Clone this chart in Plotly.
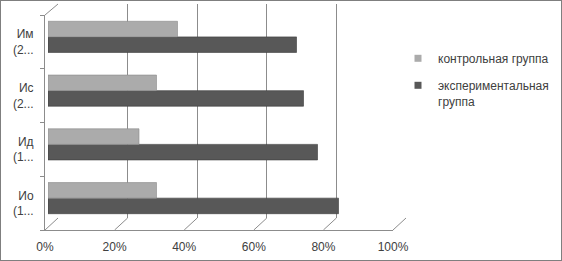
import plotly.graph_objects as go

# ---- data ----
categories = ["Ио<br>(1...", "Ид<br>(1...", "Ис<br>(2...", "Им<br>(2..."]
control = [0.31, 0.26, 0.31, 0.37]
experimental = [0.83, 0.77, 0.73, 0.71]
series_names = ["контрольная группа", "экспериментальная<br>группа"]
tick_vals = [0, 0.2, 0.4, 0.6, 0.8, 1.0]
tick_text = ["0%", "20%", "40%", "60%", "80%", "100%"]

W, H = 562, 261
def px(x):
    return x / W
def py(y):
    return 1 - y / H

C_CTRL = "#ababab"
C_EXP = "#585858"
GRID = "#8c8c8c"
TXT = "#404040"
FONT = "Liberation Sans"

front_dom = [px(45), px(393)]
back_dom = [px(58), px(406)]
bar_dom = [px(48), px(398)]
cat_range = [-0.5, len(categories) - 0.5]

fig = go.Figure()

# bars (first trace drawn lowest in each group)
fig.add_trace(go.Bar(y=categories, x=experimental, orientation="h",
                     marker=dict(color=C_EXP, line=dict(color="#3a3a3a", width=0.6)),
                     xaxis="x3", yaxis="y2", showlegend=False, name=series_names[1]))
fig.add_trace(go.Bar(y=categories, x=control, orientation="h",
                     marker=dict(color=C_CTRL, line=dict(color="#8a8a8a", width=0.6)),
                     xaxis="x3", yaxis="y2", showlegend=False, name=series_names[0]))

# invisible trace carrying the category labels on the front axis
fig.add_trace(go.Scatter(y=categories, x=[0] * len(categories), mode="markers",
                         marker=dict(opacity=0), xaxis="x", yaxis="y",
                         showlegend=False, hoverinfo="skip"))
# invisible trace for back wall grid
fig.add_trace(go.Scatter(x=[0, 1], y=[0, 1], mode="markers", marker=dict(opacity=0),
                         xaxis="x2", yaxis="y3", showlegend=False, hoverinfo="skip"))

# legend entries
fig.add_trace(go.Scatter(x=[None], y=[None], mode="markers", name=series_names[0],
                         marker=dict(symbol="square", size=7, color=C_CTRL),
                         legendgroup="a", xaxis="x3", yaxis="y2"))
fig.add_trace(go.Scatter(x=[None], y=[None], mode="markers", name=series_names[1],
                         marker=dict(symbol="square", size=7, color=C_EXP),
                         legendgroup="b", xaxis="x3", yaxis="y2"))

shapes = []
# depth diagonals at floor
fy, by = py(230), py(218)
for v in tick_vals:
    xf = front_dom[0] + v * (front_dom[1] - front_dom[0])
    xb = back_dom[0] + v * (back_dom[1] - back_dom[0])
    shapes.append(dict(type="line", xref="paper", yref="paper", x0=xf, y0=fy, x1=xb, y1=by,
                       line=dict(color=GRID, width=1)))
# left wall top diagonal
shapes.append(dict(type="line", xref="paper", yref="paper", x0=px(45), y0=py(15),
                   x1=back_dom[0], y1=py(4), line=dict(color=GRID, width=1)))
# figure border
shapes.append(dict(type="rect", xref="paper", yref="paper", x0=0, y0=0, x1=1, y1=1,
                   line=dict(color="#7f7f7f", width=2)))

fig.update_layout(
    width=W, height=H, margin=dict(l=0, r=0, t=0, b=0, autoexpand=False),
    paper_bgcolor="white", plot_bgcolor="rgba(0,0,0,0)",
    font=dict(family=FONT, size=12, color=TXT),
    barmode="group", bargap=0.42, bargroupgap=0,
    xaxis=dict(domain=front_dom, range=[0, 1], anchor="y", tickvals=tick_vals,
               ticktext=tick_text, showline=True, linecolor=GRID, linewidth=1,
               showgrid=False, zeroline=False, ticks="", ticklabelstandoff=6,
               tickfont=dict(size=12, color=TXT), automargin=False),
    yaxis=dict(domain=[py(230), py(15)], anchor="x", type="category",
               categoryorder="array", categoryarray=categories, range=cat_range,
               showline=True, linecolor=GRID, linewidth=1, ticks="outside",
               tickson="boundaries", ticklen=4, tickcolor=GRID, showgrid=False,
               zeroline=False, tickfont=dict(size=12, color=TXT), automargin=False,
               ticklabelstandoff=8),
    xaxis2=dict(domain=back_dom, range=[0, 1], anchor="y3", tickvals=tick_vals,
                showgrid=True, gridcolor=GRID, gridwidth=1, showticklabels=False,
                zeroline=False, showline=False, ticks="", automargin=False),
    yaxis3=dict(domain=[py(218), py(4)], anchor="x2", range=[0, 1], visible=False),
    xaxis3=dict(domain=bar_dom, range=[0, 1], anchor="y2", visible=False),
    yaxis2=dict(domain=[py(225), py(10)], anchor="x3", type="category",
                categoryorder="array", categoryarray=categories, range=cat_range,
                visible=False),
    legend=dict(x=px(398), xanchor="left", y=py(44), yanchor="top",
                font=dict(family=FONT, size=12, color=TXT), tracegroupgap=8,
                valign="top", bgcolor="rgba(0,0,0,0)"),
    shapes=shapes,
    hovermode=False,
)

fig.write_html("out.html")
